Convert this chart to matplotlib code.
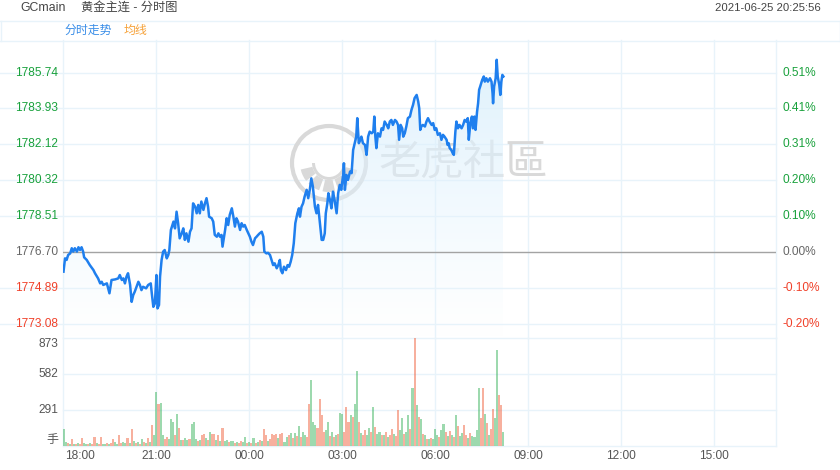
"""Intraday (分时图) chart for the COMEX gold main contract, GCmain.

Price line with a soft gradient fill on top, minute volume bars below,
on an 18:00 -> 17:00 session axis.
"""

import numpy as np
import matplotlib
matplotlib.use("Agg")
import matplotlib.pyplot as plt
from matplotlib.colors import LinearSegmentedColormap
from matplotlib.lines import Line2D
from matplotlib.patches import Circle, Wedge
from matplotlib.transforms import Affine2D

plt.rcParams["font.family"] = ["Liberation Sans", "Noto Sans CJK SC", "DejaVu Sans"]

W, H = 840, 470
PREV_CLOSE = 1776.70
SESSION_MIN = 1380          # 18:00 -> 17:00 next day
BIN_MIN = 4                 # volume bars are 4-minute buckets

TIME_LABELS = ["18:00", "21:00", "00:00", "03:00", "06:00",
               "09:00", "12:00", "15:00"]
PRICE_TICKS = [1773.08, 1774.89, 1776.70, 1778.51,
               1780.32, 1782.12, 1783.93, 1785.74]
PCT_LABELS = ["-0.20%", "-0.10%", "0.00%", "0.10%",
              "0.20%", "0.31%", "0.41%", "0.51%"]
VOL_TICKS = [291, 582, 873]

# minutes since 18:00 and last price
TIME_MIN = [
    0, 3, 6, 9, 13, 16, 19, 22, 26, 29, 32, 35, 38, 40, 45, 51, 58, 61, 67, 71,
    74, 77, 84, 89, 93, 100, 106, 109, 113, 116, 119, 122, 125, 129, 132, 135,
    138, 145, 148, 151, 154, 160, 164, 169, 171, 174, 177, 180, 182, 185, 187,
    190, 193, 196, 200, 203, 205, 208, 213, 216, 219, 222, 225, 229, 232, 235,
    238, 242, 245, 248, 251, 255, 258, 261, 264, 267, 271, 274, 277, 280, 282,
    287, 290, 293, 297, 300, 303, 306, 308, 311, 313, 316, 319, 322, 326, 329,
    332, 335, 338, 342, 345, 348, 351, 355, 358, 361, 364, 367, 371, 374, 377,
    380, 384, 387, 389, 393, 396, 400, 403, 406, 409, 413, 416, 419, 421, 424,
    427, 431, 434, 437, 440, 443, 446, 449, 453, 456, 458, 461, 464, 467, 471,
    474, 477, 480, 483, 487, 490, 493, 495, 498, 500, 503, 506, 508, 511, 513,
    516, 519, 522, 525, 529, 532, 535, 538, 542, 543, 545, 548, 551, 555, 558,
    561, 564, 567, 569, 572, 575, 577, 580, 584, 587, 590, 593, 597, 600, 602,
    604, 606, 609, 613, 616, 619, 622, 626, 629, 632, 635, 638, 642, 645, 648,
    650, 653, 656, 658, 661, 664, 667, 671, 674, 677, 680, 684, 687, 689, 691,
    693, 696, 700, 703, 706, 709, 713, 716, 719, 722, 725, 729, 732, 735, 738,
    742, 744, 746, 748, 751, 754, 756, 759, 761, 764, 767, 771, 774, 777, 780,
    783, 785, 788, 791, 793, 796, 798, 801, 803, 805, 807, 811, 814, 816, 819,
    822, 826, 829, 831, 832, 834, 837, 839, 841, 844, 846, 848, 850, 852,
]
PRICE = [
    1775.71, 1776.38, 1776.30, 1776.55, 1776.63, 1776.89, 1776.72, 1776.89,
    1776.72, 1776.94, 1776.80, 1776.94, 1776.72, 1776.43, 1776.30, 1776.04,
    1775.79, 1775.63, 1775.37, 1775.12, 1775.20, 1775.04, 1775.12, 1774.62,
    1775.29, 1775.32, 1775.37, 1775.54, 1775.29, 1775.37, 1775.12, 1775.46,
    1775.63, 1775.04, 1774.19, 1774.53, 1774.70, 1775.20, 1775.04, 1774.78,
    1774.95, 1774.87, 1775.04, 1775.12, 1774.62, 1773.94, 1774.11, 1775.54,
    1773.86, 1774.03, 1775.46, 1776.30, 1776.72, 1776.80, 1776.38, 1776.55,
    1776.80, 1777.81, 1778.23, 1777.89, 1778.73, 1778.15, 1777.39, 1777.64,
    1777.89, 1777.31, 1777.64, 1777.22, 1777.72, 1777.89, 1779.15, 1778.98,
    1778.65, 1779.07, 1778.65, 1779.24, 1778.82, 1779.15, 1779.41, 1778.98,
    1778.48, 1778.40, 1778.23, 1777.56, 1777.47, 1777.64, 1777.47, 1777.56,
    1776.97, 1777.47, 1777.81, 1778.40, 1778.06, 1778.57, 1778.90, 1778.48,
    1777.98, 1778.40, 1778.23, 1777.81, 1778.15, 1777.98, 1778.06, 1777.81,
    1777.64, 1777.47, 1777.22, 1777.05, 1777.39, 1777.47, 1777.56, 1777.64,
    1777.72, 1777.47, 1776.72, 1776.63, 1776.66, 1776.55, 1776.30, 1776.04,
    1776.13, 1775.88, 1776.04, 1776.30, 1775.79, 1775.63, 1775.96, 1775.79,
    1776.04, 1775.96, 1776.21, 1776.55, 1777.14, 1778.15, 1778.65, 1778.90,
    1778.48, 1778.98, 1779.15, 1779.49, 1779.83, 1779.41, 1779.83, 1780.41,
    1779.99, 1778.98, 1778.65, 1779.07, 1778.57, 1777.81, 1777.31, 1777.31,
    1777.64, 1778.65, 1779.15, 1779.66, 1779.32, 1778.90, 1779.74, 1779.32,
    1778.65, 1779.66, 1780.08, 1779.83, 1780.67, 1781.17, 1779.83, 1780.58,
    1780.33, 1780.75, 1780.67, 1781.84, 1782.18, 1782.51, 1783.44, 1782.18,
    1782.35, 1782.51, 1782.18, 1782.09, 1781.59, 1782.51, 1782.76, 1782.68,
    1782.76, 1783.52, 1782.51, 1781.93, 1782.68, 1782.51, 1782.93, 1782.85,
    1783.27, 1783.10, 1782.93, 1783.27, 1783.35, 1783.10, 1783.35, 1783.27,
    1783.10, 1782.35, 1783.10, 1782.93, 1782.51, 1782.68, 1783.02, 1783.44,
    1783.52, 1783.86, 1784.11, 1784.45, 1784.61, 1784.28, 1783.94, 1782.85,
    1783.02, 1783.10, 1783.02, 1783.27, 1783.44, 1783.27, 1783.10, 1783.19,
    1782.85, 1782.93, 1782.60, 1782.68, 1782.35, 1782.60, 1782.51, 1782.35,
    1782.09, 1782.18, 1781.93, 1781.84, 1781.67, 1781.59, 1782.76, 1783.27,
    1782.93, 1783.10, 1782.93, 1783.10, 1783.35, 1783.27, 1783.44, 1782.35,
    1783.19, 1783.52, 1782.93, 1783.52, 1782.85, 1783.77, 1784.19, 1784.87,
    1785.03, 1785.37, 1785.54, 1785.28, 1785.45, 1785.28, 1785.45, 1785.28,
    1784.70, 1784.19, 1785.03, 1785.45, 1786.38, 1785.54, 1785.12, 1784.61,
    1785.28, 1785.62, 1785.54,
]

# volume per 4-minute bucket (lots) and bar colour (g = green, r = red)
VOL = [
    137, 30, 22, 18, 57, 20, 15, 25, 18, 67,
    22, 14, 20, 28, 16, 73, 24, 18, 73, 20,
    15, 26, 18, 22, 57, 30, 20, 89, 24, 35,
    22, 62, 28, 135, 40, 25, 32, 20, 54, 30,
    26, 67, 35, 170, 89, 440, 340, 345, 89, 60,
    70, 55, 215, 190, 89, 259, 145, 50, 45, 62,
    48, 55, 175, 191, 57, 40, 52, 89, 94, 62,
    45, 110, 94, 94, 50, 89, 40, 142, 38, 51,
    30, 44, 40, 28, 35, 26, 40, 30, 73, 25,
    32, 28, 67, 22, 35, 45, 38, 140, 89, 42,
    55, 97, 89, 100, 62, 94, 102, 35, 70, 85,
    108, 65, 108, 80, 164, 72, 116, 90, 75, 340,
    533, 197, 170, 142, 380, 250, 116, 129, 191, 80,
    116, 75, 89, 95, 269, 259, 110, 318, 197, 250,
    237, 340, 608, 191, 102, 85, 129, 90, 142, 110,
    318, 156, 95, 116, 85, 90, 116, 75, 88, 135,
    100, 80, 291, 129, 224, 94, 110, 250, 135, 466,
    873, 331, 237, 218, 95, 89, 60, 55, 62, 58,
    137, 89, 75, 129, 178, 116, 80, 121, 85, 70,
    250, 164, 80, 102, 170, 85, 62, 102, 80, 75,
    129, 470, 224, 466, 256, 183, 89, 140, 299, 224,
    776, 413, 331, 116,
]
VOL_SIDE = "".join([
    "ggrgrgrgrr", "ggrgrrgrrg", "grgrrggrrg", "grgrgrgrgr", "grgrggrggr",
    "rgggrgrgrg", "grgggrgrrg", "rgrrgrgrgg", "rggrgrrggr", "grgrgrgrrg",
    "rrrrgrrggr", "grgrgrggrr", "gggrrrrggr", "grgrggrrrg", "rggrgrrggr",
    "grggrgrgrr", "grrggrggrg", "rgrgrgrgrg", "ggrggrgrgr", "grggrrgrgg",
    "ggrrgrgrrg", "grrg",
])

GRID = "#e8f3fa"
UP_TXT, DOWN_TXT, FLAT_TXT = "#19a13c", "#f0412a", "#666666"
LINE_BLUE = "#1f7fee"
BAR_COLORS = {"g": "#3cb45e", "r": "#f0623f"}

# panel edges in image pixels
X0, X1 = 63.5, 776.0
PRICE_TOP, PRICE_BOT, VOL_BOT = 40.0, 338.0, 446.0
PX_PER_PRICE = 35.9 / 1.808


def fx(x):
    return x / W


def fy(y):
    return 1.0 - y / H


def hline_fig(fig, y, x0=0.0, x1=W):
    fig.add_artist(Line2D([fx(x0), fx(x1)], [fy(y), fy(y)],
                          transform=fig.transFigure, color=GRID, lw=1))


def vline_fig(fig, x, y0, y1):
    fig.add_artist(Line2D([fx(x), fx(x)], [fy(y0), fy(y1)],
                          transform=fig.transFigure, color=GRID, lw=1))


def draw_watermark(ax):
    # pixel coordinates, origin top-left (angles run clockwise here)
    px = Affine2D().scale(1, -1).translate(0, H)
    c = "#d9d9d9"
    ax.add_patch(Circle((329, 163), 37, fill=False, ec=c, lw=3.0,
                        transform=px, zorder=0.5))
    for a0 in (14, 46, 78, 110, 142):
        ax.add_patch(Wedge((329, 163), 29, a0, a0 + 25, width=12,
                           fc=c, ec="none", transform=px, zorder=0.5))
    ax.add_patch(Wedge((329, 163), 17, 0, 180, width=3,
                       fc=c, ec="none", transform=px, zorder=0.5))
    ax.text(379, 164, "老虎社區", transform=px, fontsize=30.5, color=c,
            va="center", ha="left", zorder=0.5,
            family=["Noto Sans CJK TC", "Noto Sans CJK SC"])


def price_panel(fig):
    ax = fig.add_axes([fx(X0), fy(PRICE_BOT), (X1 - X0) / W,
                       (PRICE_BOT - PRICE_TOP) / H])
    lo = PREV_CLOSE - (PRICE_BOT - 252) / PX_PER_PRICE
    hi = PREV_CLOSE + (252 - PRICE_TOP) / PX_PER_PRICE
    ax.set_axis_off()

    for p in PRICE_TICKS:
        if p != PREV_CLOSE:
            ax.axhline(p, xmin=-X0 / (X1 - X0), xmax=1, color=GRID, lw=1,
                       clip_on=False, zorder=0)
    for m in range(0, SESSION_MIN + 1, 180):
        ax.axvline(m, color=GRID, lw=1, clip_on=False, zorder=0)
    ax.axvline(SESSION_MIN, color=GRID, lw=1, clip_on=False, zorder=0)

    draw_watermark(ax)

    t = np.array(TIME_MIN)
    p = np.array(PRICE)
    poly = ax.fill_between(t, p, lo, facecolor="none", edgecolor="none")
    cmap = LinearSegmentedColormap.from_list(
        "fill", [(0.90, 0.96, 1.0, 0.0), (0.86, 0.94, 0.99, 0.9)])
    grad = np.linspace(0, 1, 256).reshape(-1, 1)
    im = ax.imshow(grad, extent=[t[0], t[-1], lo, p.max()], origin="lower",
                   aspect="auto", cmap=cmap, zorder=1)
    im.set_clip_path(poly.get_paths()[0], transform=ax.transData)

    ax.axhline(PREV_CLOSE, color="#a3a3a3", lw=1, zorder=2)
    ax.plot(t, p, color=LINE_BLUE, lw=1.8, zorder=3,
            solid_joinstyle="round")

    ax.set_xlim(0, SESSION_MIN)
    ax.set_ylim(lo, hi)

    ytr = ax.get_yaxis_transform()
    for tick, pct in zip(PRICE_TICKS, PCT_LABELS):
        if tick > PREV_CLOSE:
            col = UP_TXT
        elif tick < PREV_CLOSE:
            col = DOWN_TXT
        else:
            col = FLAT_TXT
        ax.text(-5.5 / (X1 - X0), tick, f"{tick:.2f}", transform=ytr,
                ha="right", va="center", fontsize=8.6, color=col)
        ax.text(1 + 6.5 / (X1 - X0), tick, pct, transform=ytr,
                ha="left", va="center", fontsize=8.6, color=col)
    return ax


def volume_panel(fig):
    ax = fig.add_axes([fx(X0), fy(VOL_BOT), (X1 - X0) / W,
                       (VOL_BOT - PRICE_BOT) / H])
    ax.set_axis_off()
    for v in [0] + VOL_TICKS:
        ax.axhline(v, color=GRID, lw=1, clip_on=False, zorder=0)
    for m in range(0, SESSION_MIN + 1, 180):
        ax.axvline(m, color=GRID, lw=1, clip_on=False, zorder=0)
    ax.axvline(SESSION_MIN, color=GRID, lw=1, clip_on=False, zorder=0)

    x = np.arange(len(VOL)) * BIN_MIN
    colors = [BAR_COLORS[s] for s in VOL_SIDE]
    ax.bar(x, VOL, width=BIN_MIN, color=colors, alpha=0.5,
           linewidth=0, zorder=2)
    ax.set_xlim(0, SESSION_MIN)
    ax.set_ylim(0, max(VOL_TICKS))

    ytr = ax.get_yaxis_transform()
    xoff = -5.5 / (X1 - X0)
    ax.text(xoff, VOL_TICKS[-1], str(VOL_TICKS[-1]), transform=ytr,
            ha="right", va="top", fontsize=8.6, color="#555555")
    for v in VOL_TICKS[:-1]:
        ax.text(xoff, v, str(v), transform=ytr, ha="right", va="center",
                fontsize=8.6, color="#555555")
    ax.text(xoff, 0, "手", transform=ytr, ha="right", va="bottom",
            fontsize=8.6, color="#555555")

    xtr = ax.get_xaxis_transform()
    ylab = -10.0 / (VOL_BOT - PRICE_BOT)
    for i, lab in enumerate(TIME_LABELS):
        m = i * 180
        if i == 0:
            ax.text(m + 3, ylab, lab, transform=xtr, ha="left",
                    va="center", fontsize=8.6, color="#555555")
        else:
            ax.text(m, ylab, lab, transform=xtr, ha="center",
                    va="center", fontsize=8.6, color="#555555")
    return ax


def main():
    fig = plt.figure(figsize=(W / 100, H / 100), dpi=100)
    fig.patch.set_facecolor("white")

    # header and legend strip
    fig.text(fx(20), fy(8), "GCmain", fontsize=8.8, color="#444444",
             va="center")
    fig.text(fx(81), fy(8), "黄金主连 - 分时图", fontsize=8.8,
             color="#444444", va="center")
    fig.text(fx(821), fy(8), "2021-06-25 20:25:56", fontsize=8.1,
             color="#444444", va="center", ha="right")
    hline_fig(fig, 20.5)
    hline_fig(fig, 40.5)
    vline_fig(fig, 0.5, 20.5, 40.5)
    vline_fig(fig, 839.5, 20.5, 40.5)
    fig.text(fx(64.5), fy(30.5), "分时走势", fontsize=8.6, color="#3a8ee8",
             va="center")
    fig.text(fx(124), fy(30.5), "均线", fontsize=8.6, color="#f6a23a",
             va="center")

    price_panel(fig)
    volume_panel(fig)

    fig.savefig("out.png", dpi=100)
    plt.close(fig)


if __name__ == "__main__":
    main()
